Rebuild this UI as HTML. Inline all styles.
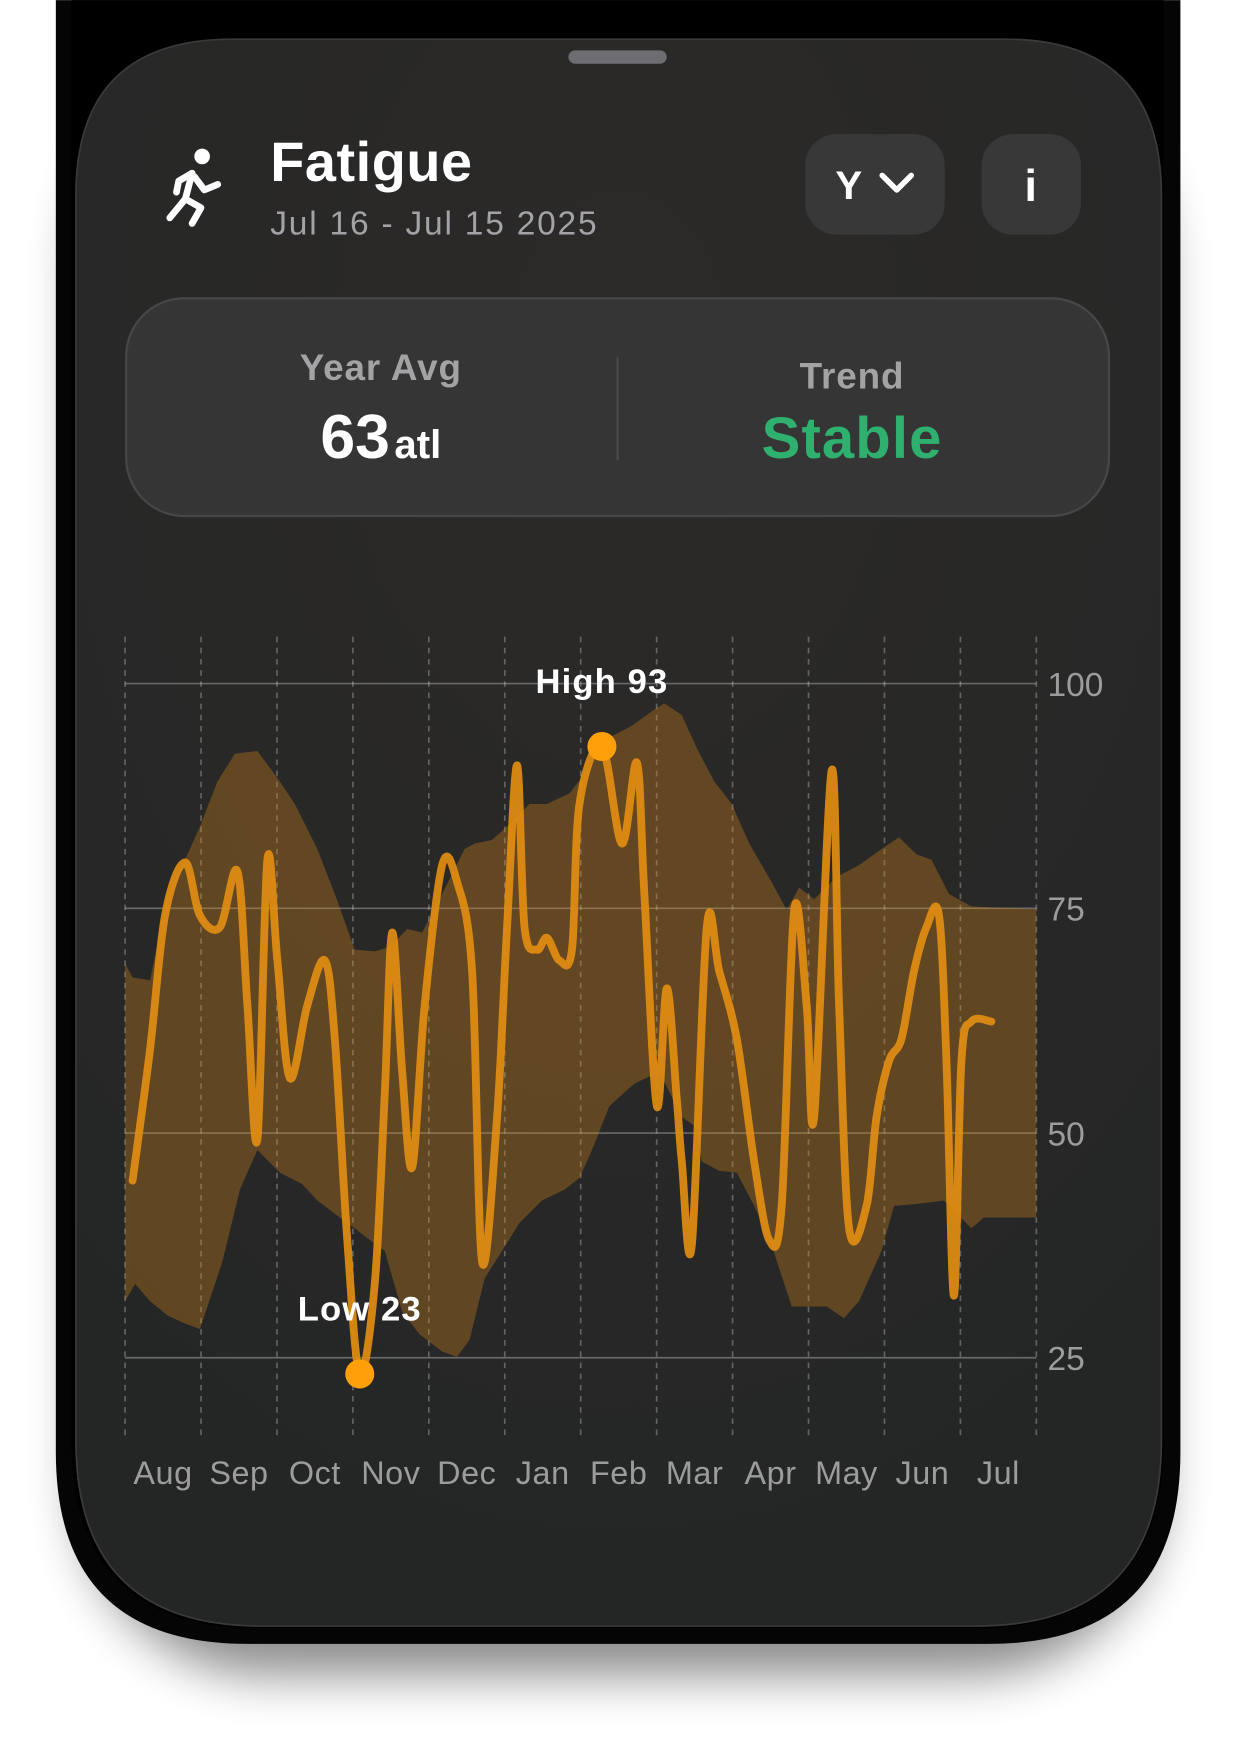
<!DOCTYPE html>
<html><head><meta charset="utf-8">
<style>
html,body{margin:0;padding:0;background:#fff;}
svg{display:block;}
text{font-family:"Liberation Sans","DejaVu Sans",sans-serif;}
</style></head>
<body>
<svg id="root" width="1234" height="1749" viewBox="0 0 1105 1566">
<defs>
  <filter id="sh" x="-20%" y="-20%" width="140%" height="150%"><feGaussianBlur stdDeviation="22"/></filter>
  <radialGradient id="bgGrad" cx="0.5" cy="0.2" r="0.8">
    <stop offset="0" stop-color="#2c2a28"/><stop offset="1" stop-color="#242626"/>
  </radialGradient>
</defs>
<rect x="0" y="0" width="1105" height="1566" fill="#ffffff"/>
<rect x="70" y="60" width="970" height="1440" rx="170" fill="#000" opacity="0.45" filter="url(#sh)"/>
<path d="M50 0 H1057 V1300 Q1057 1472 885 1472 H222 Q50 1472 50 1300 Z" fill="#050505"/>
<path d="M64 0 H1042 V1290 Q1042 1458 874 1458 H232 Q64 1458 64 1290 Z" fill="#000"/>
<path d="M208 35 H900 Q1040 35 1040 175 V1290 Q1040 1456 874 1456 H234 Q68 1456 68 1290 V175 Q68 35 208 35 Z" fill="url(#bgGrad)" stroke="#3a3a3a" stroke-width="1.5"/>
<rect x="509" y="45" width="88" height="12" rx="6" fill="#6e6e72"/>

<g fill="none" stroke="#fff" stroke-width="6" stroke-linecap="round" stroke-linejoin="round">
  <circle cx="181" cy="140" r="7" fill="#fff" stroke="none"/>
  <path d="M172 155 L166 178 L180 186 L172 200"/>
  <path d="M166 178 L152 195"/>
  <path d="M172 155 L160 162 L158 172"/>
  <path d="M174 158 L183 170 L195 165"/>
</g>
<text x="242" y="162" font-size="50" font-weight="bold" fill="#fff" letter-spacing="0.5">Fatigue</text>
<text x="242" y="210" font-size="30" fill="#a3a3a6" letter-spacing="1.6">Jul 16 - Jul 15 2025</text>

<g>
  <rect x="721" y="120" width="125" height="90" rx="28" fill="#383838"/>
  <text x="760" y="178" font-size="36" font-weight="bold" fill="#fff" text-anchor="middle">Y</text>
  <path d="M790 157 L803 170 L816 157" fill="none" stroke="#fff" stroke-width="5" stroke-linecap="round" stroke-linejoin="round"/>
</g>
<g>
  <rect x="879" y="120" width="89" height="90" rx="28" fill="#383838"/>
  <text x="923" y="180" font-size="40" font-weight="bold" fill="#fff" text-anchor="middle" font-family="Liberation Mono, monospace">i</text>
</g>

<g>
  <rect x="113" y="267" width="880" height="195" rx="52" fill="#353535" stroke="#474747" stroke-width="2"/>
  <line x1="553" y1="320" x2="553" y2="412" stroke="#4a4a4a" stroke-width="2"/>
  <text x="341" y="340" font-size="33" font-weight="bold" fill="#a3a3a6" text-anchor="middle" letter-spacing="0.8">Year Avg</text>
  <text x="341" y="410" text-anchor="middle" fill="#fff" font-weight="bold"><tspan font-size="56">63</tspan><tspan font-size="36" dx="4">atl</tspan></text>
  <text x="763" y="348" font-size="33" font-weight="bold" fill="#a3a3a6" text-anchor="middle" letter-spacing="0.8">Trend</text>
  <text x="763" y="410" font-size="52" font-weight="bold" fill="#2fb06f" text-anchor="middle" letter-spacing="1">Stable</text>
</g>

<g id="chart"></g>
</svg>

<script>
// ---- data ----
const months = ["Aug","Sep","Oct","Nov","Dec","Jan","Feb","Mar","Apr","May","Jun","Jul"];
const yTicks = [25,50,75,100];
const lineDays = [3,10,16,24,30,38,45,49,53,57,61,66,73,80,84,89,94,100,104,107,111,115,120,127,133,139,143,149,153,157,160,165,169,174,179,182,191,199,205,208,213,217,221,223,227,233,238,245,252,258,263,268,273,276,283,286,290,297,301,306,311,316,321,326,329,332,335,339,347];
const lineVals = [44.7,59.3,74.2,80.1,74.2,72.9,79.1,64.2,49.3,80.4,69.2,56.1,64.2,69.2,60.5,38.1,23.2,33.2,54.3,72.3,56.8,46.2,64.2,79.8,77.9,68.0,35.7,51.8,72.9,90.9,72.9,70.4,71.7,69.2,70.4,86.6,93.0,82.2,91.2,76.6,53.0,66.1,53.7,46.8,37.5,72.9,68.0,60.5,46.8,38.1,41.9,74.8,64.2,51.8,90.3,64.2,39.4,41.9,51.8,58.0,60.5,68.0,72.9,74.2,58.0,31.9,58.0,62.4,62.4];
const upDays = [0,3,10,17,24,30,37,44,53,62,68,77,84,92,100,106,113,119,127,136,140,147,153,162,169,178,185,194,203,212,216,223,229,236,243,250,259,265,270,276,285,294,303,310,317,323,330,339,365];
const upVals = [68.9,67.3,67.0,76.6,80.4,84.1,89.1,92.2,92.5,89.1,86.6,81.6,76.6,70.4,70.2,70.7,72.7,72.3,76.6,81.6,82.2,82.6,84.1,86.6,86.6,87.8,90.3,94.0,95.3,97.1,97.8,96.5,92.8,89.1,86.6,82.2,77.9,74.8,77.3,76.0,78.5,79.8,81.6,82.9,81.0,80.4,76.6,75.2,74.9];
const loDays = [0,4,10,17,24,30,39,46,53,62,71,77,86,92,98,104,111,118,127,133,138,144,151,158,167,176,182,187,194,204,214,223,229,231,238,245,252,259,267,281,288,294,303,308,317,328,339,344,365];
const loVals = [31.3,33.2,31.3,29.7,28.8,28.2,35.7,43.7,48.1,45.6,44.3,42.5,40.6,39.4,38.1,36.9,30.1,27.6,25.7,25.1,27.0,33.8,36.9,40.0,42.5,43.7,45.0,48.1,53.0,55.5,56.8,51.8,50.6,46.8,45.8,45.6,41.9,37.5,30.7,30.7,29.4,31.3,36.9,41.9,42.1,42.5,39.4,40.6,40.6];
const highIdx = 36, lowIdx = 16;

// ---- axes ----
const X0 = 112, X1 = 928, Y100 = 612, PXU = 8.05;
const xS = d => X0 + d / 365 * (X1 - X0);
const yS = v => Y100 + (100 - v) * PXU;
const NS = "http://www.w3.org/2000/svg";
const g = document.getElementById('chart');
function mk(tag, attrs, parent) {
  const e = document.createElementNS(NS, tag);
  for (const k in attrs) e.setAttribute(k, attrs[k]);
  (parent || g).appendChild(e);
  return e;
}
function smooth(pts) {
  let d = `M${pts[0][0]} ${pts[0][1]}`;
  for (let i = 0; i < pts.length - 1; i++) {
    const p0 = pts[Math.max(0, i - 1)], p1 = pts[i], p2 = pts[i + 1], p3 = pts[Math.min(pts.length - 1, i + 2)];
    const c1x = p1[0] + (p2[0] - p0[0]) / 6, c1y = p1[1] + (p2[1] - p0[1]) / 6;
    const c2x = p2[0] - (p3[0] - p1[0]) / 6, c2y = p2[1] - (p3[1] - p1[1]) / 6;
    d += ` C${c1x} ${c1y} ${c2x} ${c2y} ${p2[0]} ${p2[1]}`;
  }
  return d;
}

for (let i = 0; i <= months.length; i++) {
  const x = X0 + i * (X1 - X0) / months.length;
  const l = mk('line', {x1: x, x2: x, y1: 570, y2: 1287, stroke: 'rgba(255,255,255,0.28)', 'stroke-width': 1.5, 'stroke-dasharray': '5 5'});
  
  
}
yTicks.forEach(v => {
  const l = mk('line', {x1: X0, x2: X1, y1: yS(v), y2: yS(v), stroke: 'rgba(255,255,255,0.3)', 'stroke-width': 1.5});
  
  
  const t = mk('text', {x: 938, y: yS(v) + 11, 'font-size': 30, fill: '#9c9c9f'});
  t.textContent = v;
  
  
});
months.forEach((m, i) => {
  const cx = X0 + (i + 0.5) * (X1 - X0) / months.length;
  const t = mk('text', {x: cx, y: 1329, 'font-size': 29, fill: '#9c9c9f', 'text-anchor': 'middle', 'letter-spacing': '0.5'});
  t.textContent = m;
  
  
});
let bd = upDays.map((d, i) => `${i ? 'L' : 'M'}${xS(d)} ${yS(upVals[i])}`).join(' ');
for (let i = loDays.length - 1; i >= 0; i--) bd += ` L${xS(loDays[i])} ${yS(loVals[i])}`;
const band = mk('path', {d: bd + ' Z', fill: 'rgba(222,138,26,0.32)'});


const pts = lineDays.map((d, i) => [xS(d), yS(lineVals[i])]);
const line = mk('path', {d: smooth(pts), fill: 'none', stroke: '#e28d12', 'stroke-opacity': 0.92, 'stroke-width': 7, 'stroke-linecap': 'round', 'stroke-linejoin': 'round'});


[[highIdx, 'High'], [lowIdx, 'Low']].forEach(([idx, lab]) => {
  const x = xS(lineDays[idx]), y = yS(lineVals[idx]);
  const c = mk('circle', {cx: x, cy: y, r: 13, fill: '#ff9f0a'});
  
  
  const t = mk('text', {x: x, y: y - 48, 'font-size': 31, 'font-weight': 'bold', fill: '#fff', 'text-anchor': 'middle', 'letter-spacing': '1'});
  t.textContent = lab + ' ' + Math.round(lineVals[idx]);
  
  
});
</script>
</body></html>
